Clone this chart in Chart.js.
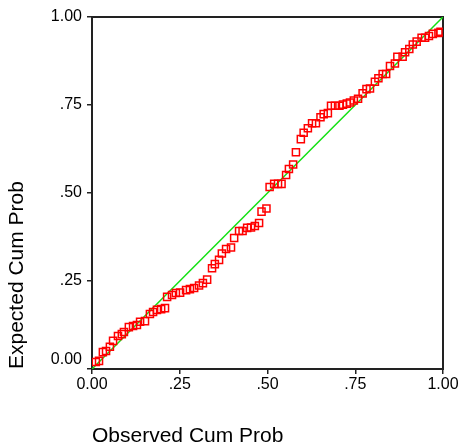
<!DOCTYPE html>
<html>
<head>
<meta charset="utf-8">
<script src="https://cdn.jsdelivr.net/npm/chart.js@4.4.1/dist/chart.umd.min.js"></script>
<style>
  html, body { margin: 0; padding: 0; background: #fff; }
  #wrap { width: 462px; height: 447px; }
</style>
</head>
<body>
<div id="wrap"><canvas id="ppChart"></canvas></div>
<script>
// Observed cumulative probability (x) and expected cumulative probability (y)
const observedCum = [
  .011, .020, .031, .040, .051, .060, .074, .085, .091, .105,
  .117, .128, .137, .151, .165, .174, .185, .197, .208, .214,
  .228, .239, .251, .268, .279, .291, .305, .316, .328, .342,
  .350, .362, .370, .382, .396, .405, .419, .429, .442, .453,
  .464, .476, .483, .497, .506, .519, .530, .540, .553, .561,
  .573, .581, .595, .603, .615, .627, .638, .651, .660, .672,
  .681, .692, .705, .715, .726, .735, .746, .758, .771, .782,
  .792, .806, .816, .828, .838, .849, .863, .870, .885, .892,
  .904, .914, .925, .939, .949, .960, .971, .987, .993
];
const expectedCum = [
  .020, .023, .048, .051, .063, .080, .094, .099, .105, .119,
  .122, .125, .134, .136, .156, .162, .168, .170, .173, .205,
  .210, .216, .217, .224, .227, .230, .237, .244, .254, .286,
  .298, .310, .328, .341, .345, .372, .392, .392, .401, .402,
  .406, .415, .447, .456, .517, .526, .526, .526, .551, .568,
  .581, .616, .653, .671, .684, .698, .698, .715, .724, .727,
  .748, .748, .748, .751, .754, .757, .763, .768, .783, .795,
  .797, .816, .826, .838, .838, .861, .868, .887, .887, .900,
  .909, .922, .930, .941, .941, .946, .952, .955, .958
];
const refLineX = [0, 1];
const refLineY = [0, 1];
const xTickLabels = ["0.00", ".25", ".50", ".75", "1.00"];
const yTickLabels = ["0.00", ".25", ".50", ".75", "1.00"];

const FONT = "'Liberation Sans', Arial, Helvetica, sans-serif";
const INK = "#222";

const points = observedCum.map((x, i) => ({ x: x, y: expectedCum[i] }));
const diag = refLineX.map((x, i) => ({ x: x, y: refLineY[i] }));

const ctx = document.getElementById("ppChart").getContext("2d");

new Chart(ctx, {
  type: "scatter",
  data: {
    datasets: [{
      label: "P-P",
      data: points,
      pointStyle: "rect",
      pointRadius: 5,
      pointHoverRadius: 5,
      borderColor: "#ff0000",
      backgroundColor: "rgba(0,0,0,0)",
      pointBorderWidth: 1.5,
      order: 1
    }, {
      label: "diagonal",
      type: "line",
      data: diag,
      borderColor: "#11e011",
      borderWidth: 1.5,
      pointRadius: 0,
      fill: false,
      order: 2
    }]
  },
  options: {
    responsive: true,
    maintainAspectRatio: false,
    animation: false,
    layout: { padding: { left: 0, right: 19, top: 17, bottom: 0 } },
    plugins: {
      legend: { display: false },
      tooltip: { enabled: false }
    },
    scales: {
      x: {
        type: "linear",
        position: "bottom",
        min: 0,
        max: 1,
        afterFit: (s) => { s.height = 78; },
        border: { display: true, color: INK, width: 2 },
        grid: { drawOnChartArea: false, drawTicks: true, tickLength: 5, color: INK, lineWidth: 1.5 },
        ticks: {
          stepSize: 0.25,
          padding: 1,
          color: "#000",
          font: { family: FONT, size: 16 },
          maxRotation: 0,
          callback: (v, i) => xTickLabels[i]
        },
        title: {
          display: true,
          text: "Observed Cum Prob",
          align: "start",
          color: "#000",
          font: { family: FONT, size: 21, lineHeight: 1 },
          padding: { top: 0, bottom: 0 }
        }
      },
      y: {
        type: "linear",
        position: "left",
        min: 0,
        max: 1,
        afterFit: (s) => { s.width = 92; },
        border: { display: true, color: INK, width: 2 },
        grid: { drawOnChartArea: false, drawTicks: true, tickLength: 5, color: INK, lineWidth: 1.5 },
        ticks: {
          stepSize: 0.25,
          padding: 5,
          color: "#000",
          font: { family: FONT, size: 16 },
          // bottom label sits a little above the corner, like the original
          callback: (v, i) => (i === 0 ? [yTickLabels[i], ""] : yTickLabels[i])
        },
        title: {
          display: true,
          text: "Expected Cum Prob",
          align: "start",
          color: "#000",
          font: { family: FONT, size: 21, lineHeight: 1 },
          padding: { top: 7, bottom: 0 }
        }
      },
      x2: {
        type: "linear",
        position: "top",
        min: 0,
        max: 1,
        afterFit: (s) => { s.height = 0; },
        border: { display: true, color: INK, width: 2 },
        grid: { drawOnChartArea: false, drawTicks: false },
        ticks: { display: false }
      },
      y2: {
        type: "linear",
        position: "right",
        min: 0,
        max: 1,
        afterFit: (s) => { s.width = 0; },
        border: { display: true, color: INK, width: 2 },
        grid: { drawOnChartArea: false, drawTicks: false },
        ticks: { display: false }
      }
    }
  }
});
</script>
</body>
</html>
